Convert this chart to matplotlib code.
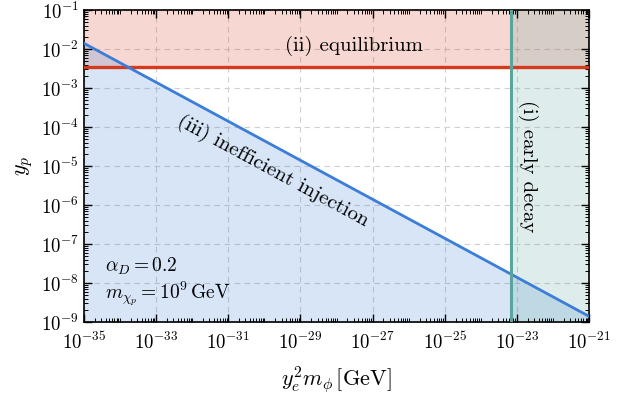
import numpy as np
import matplotlib
matplotlib.use("Agg")
import matplotlib.pyplot as plt
from matplotlib.ticker import LogLocator, NullFormatter, FixedLocator

plt.rcParams["font.family"] = "serif"
plt.rcParams["font.serif"] = ["cmr10", "DejaVu Serif"]
plt.rcParams["mathtext.fontset"] = "cm"
plt.rcParams["axes.unicode_minus"] = False
plt.rcParams["axes.formatter.use_mathtext"] = True

# region boundaries
x_range = [1e-35, 1e-21]
y_range = [1e-9, 1e-1]
inj_x = [1e-35, 1e-21]          # (iii) inefficient injection boundary
inj_y = [1.4e-2, 1.4e-9]
eq_y = 3.5e-3                    # (ii) equilibrium boundary
decay_x = 7e-24                  # (i) early decay boundary

x_labels = [1e-35, 1e-33, 1e-31, 1e-29, 1e-27, 1e-25, 1e-23, 1e-21]
y_labels = [1e-9, 1e-8, 1e-7, 1e-6, 1e-5, 1e-4, 1e-3, 1e-2, 1e-1]

red = "#d63a1e"
blue = "#3b7dd8"
teal = "#5aa59b"

fig = plt.figure(figsize=(6.33, 4.0), dpi=100)
ax = fig.add_axes([84 / 633, 1 - 322 / 400, 505 / 633, 312 / 400])
ax.set_xscale("log")
ax.set_yscale("log")
ax.set_xlim(x_range)
ax.set_ylim(y_range)

# grid
for xv in x_labels:
    ax.axvline(xv, color="#d0d0d0", lw=0.8, ls=(0, (5, 4)), zorder=0)
for yv in y_labels:
    ax.axhline(yv, color="#d0d0d0", lw=0.8, ls=(0, (5, 4)), zorder=0)

# shaded regions
ax.fill_between(x_range, [eq_y, eq_y], [y_range[1], y_range[1]],
                color=red, alpha=0.2, lw=0, zorder=1)
ax.fill_between(inj_x, [y_range[0], y_range[0]], inj_y,
                color=blue, alpha=0.2, lw=0, zorder=1)
ax.fill_betweenx(y_range, [decay_x, decay_x], [x_range[1], x_range[1]],
                 color=teal, alpha=0.2, lw=0, zorder=1)

ax.axhline(eq_y, color=red, lw=2.4, zorder=3)
ax.plot(inj_x, inj_y, color=blue, lw=2.0, zorder=3)
ax.axvline(decay_x, color=teal, lw=2.2, zorder=4)

fs = 15
ax.text(3e-28, 1.2e-2, "(ii) equilibrium", fontsize=fs, ha="center", va="center")
ax.text(1.7e-30, 7.4e-6, "(iii) inefficient injection", fontsize=fs,
        ha="center", va="center", rotation=-28.4, rotation_mode="anchor")
ax.text(2.0e-23, 1e-5, "(i) early decay", fontsize=fs,
        ha="center", va="center", rotation=-90)
ax.text(3.9e-35, 2.0e-8, r"$\alpha_D = 0.2$", fontsize=14, ha="left", va="baseline")
ax.text(3.9e-35, 4.1e-9, r"$m_{\chi_p} = 10^9\,\mathrm{GeV}$", fontsize=14,
        ha="left", va="baseline")

ax.set_xlabel(r"$y_e^2 m_\phi\,[\mathrm{GeV}]$", fontsize=16, labelpad=8)
ax.set_ylabel(r"$y_p$", fontsize=16, labelpad=4)

# ticks
ax.xaxis.set_major_locator(FixedLocator(x_labels))
ax.xaxis.set_minor_locator(LogLocator(base=10, subs=np.arange(1, 10), numticks=100))
ax.xaxis.set_minor_formatter(NullFormatter())
ax.yaxis.set_major_locator(FixedLocator(y_labels))
ax.yaxis.set_minor_locator(LogLocator(base=10, subs=np.arange(2, 10), numticks=100))
ax.yaxis.set_minor_formatter(NullFormatter())
ax.tick_params(which="both", direction="in", top=True, right=True, labelsize=13.5)
ax.tick_params(axis="x", which="major", pad=7)
ax.tick_params(which="major", length=6, width=1.0)
ax.tick_params(which="minor", length=3, width=0.7)
for s in ax.spines.values():
    s.set_linewidth(1.2)

fig.savefig("out.png", dpi=100)
